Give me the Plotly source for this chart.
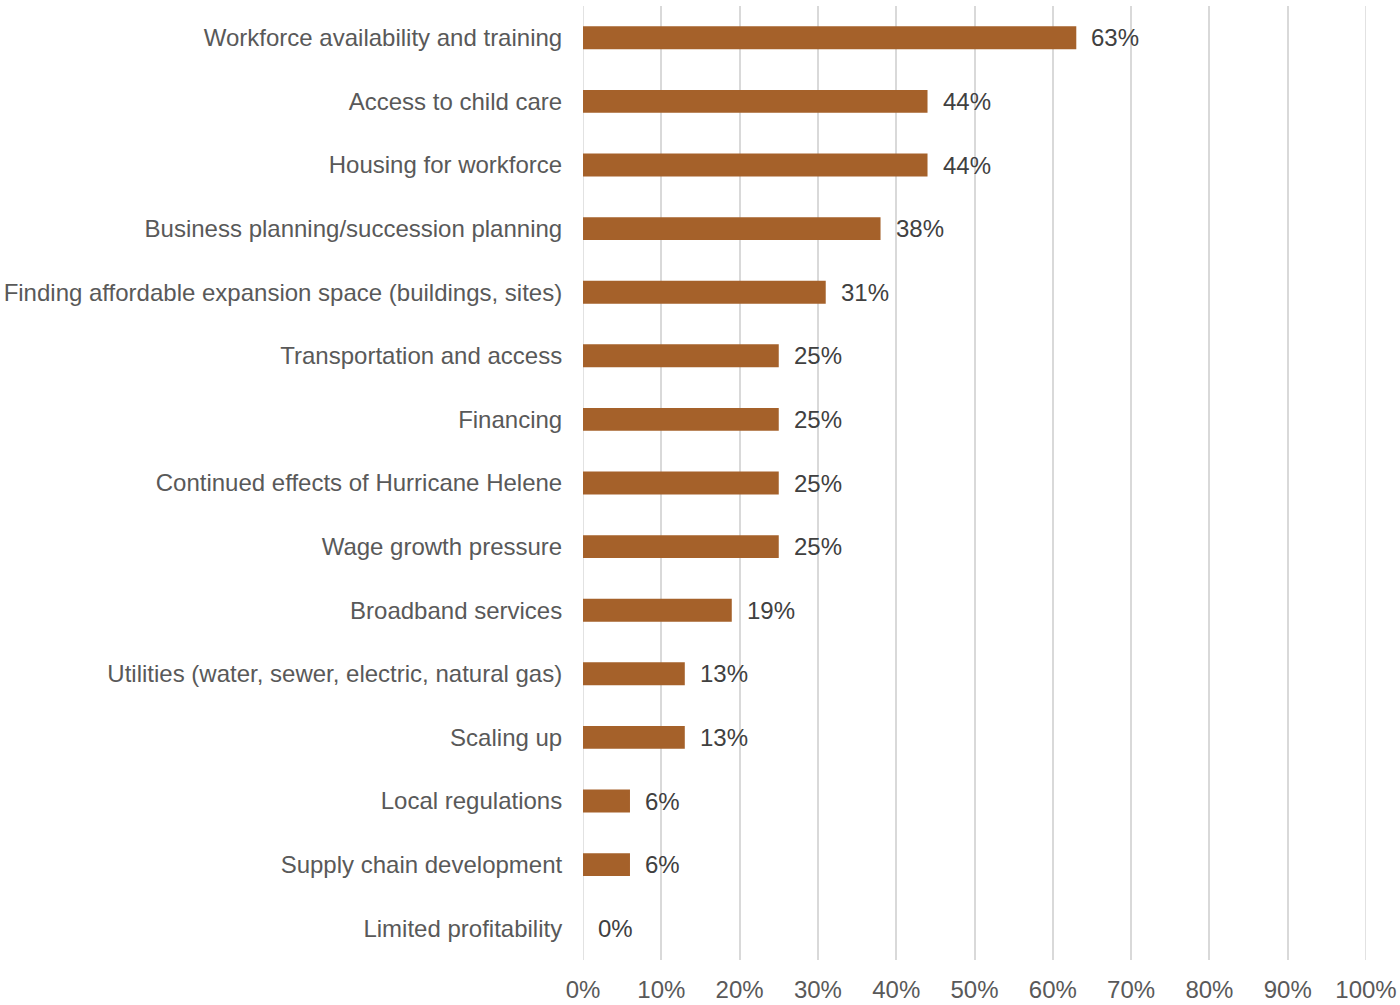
import plotly.graph_objects as go

# Share of respondents naming each issue as a challenge
categories = [
    "Workforce availability and training",
    "Access to child care",
    "Housing for workforce",
    "Business planning/succession planning",
    "Finding affordable expansion space (buildings, sites)",
    "Transportation and access",
    "Financing",
    "Continued effects of Hurricane Helene",
    "Wage growth pressure",
    "Broadband services",
    "Utilities (water, sewer, electric, natural gas)",
    "Scaling up",
    "Local regulations",
    "Supply chain development",
    "Limited profitability",
]
values = [63, 44, 44, 38, 31, 25, 25, 25, 25, 19, 13, 13, 6, 6, 0]

x_ticks = list(range(0, 101, 10))
x_tick_labels = [f"{t}%" for t in x_ticks]

FONT = "Liberation Sans, Arial, sans-serif"
FONT_SIZE = 24
BAR_COLOR = "#A5612A"
AXIS_TEXT = "#595959"
LABEL_TEXT = "#404040"
GRID = "#D9D9D9"

fig = go.Figure()
fig.add_trace(go.Bar(
    x=values,
    y=categories,
    orientation="h",
    marker=dict(color=BAR_COLOR, line=dict(width=0)),
    hoverinfo="x+y",
))

# Value labels just past the end of each bar
for cat, v in zip(categories, values):
    fig.add_annotation(
        x=v, y=cat, text=f"{v}%", showarrow=False,
        xanchor="left", yanchor="middle", xshift=13,
        font=dict(family=FONT, size=FONT_SIZE, color=LABEL_TEXT),
    )

# Gridlines at both ends of the axis (Plotly skips grid at the range edges)
for edge in (x_ticks[0], x_ticks[-1]):
    fig.add_shape(
        type="line", xref="x", yref="paper",
        x0=edge, x1=edge, y0=0, y1=1,
        line=dict(color=GRID, width=1.5), layer="below",
    )

fig.update_layout(
    width=1400, height=1005,
    margin=dict(l=583, r=34, t=6, b=45, autoexpand=False),
    paper_bgcolor="white", plot_bgcolor="white",
    bargap=0.64,
    showlegend=False,
    font=dict(family=FONT, size=FONT_SIZE, color=AXIS_TEXT),
)
fig.update_xaxes(
    range=[0, 100],
    tickvals=x_ticks, ticktext=x_tick_labels,
    showgrid=True, gridcolor=GRID, gridwidth=1.5,
    zeroline=False, showline=False,
    ticks="outside", ticklen=8, tickcolor="rgba(0,0,0,0)",
    tickfont=dict(family=FONT, size=FONT_SIZE, color=AXIS_TEXT),
    automargin=False,
    fixedrange=True,
)
fig.update_yaxes(
    categoryorder="array", categoryarray=categories,
    autorange="reversed",
    showgrid=False, zeroline=False, showline=False,
    ticks="outside", ticklen=15, tickcolor="rgba(0,0,0,0)",
    tickfont=dict(family=FONT, size=FONT_SIZE, color=AXIS_TEXT),
    automargin=False,
    fixedrange=True,
)

fig.write_html("out.html")
